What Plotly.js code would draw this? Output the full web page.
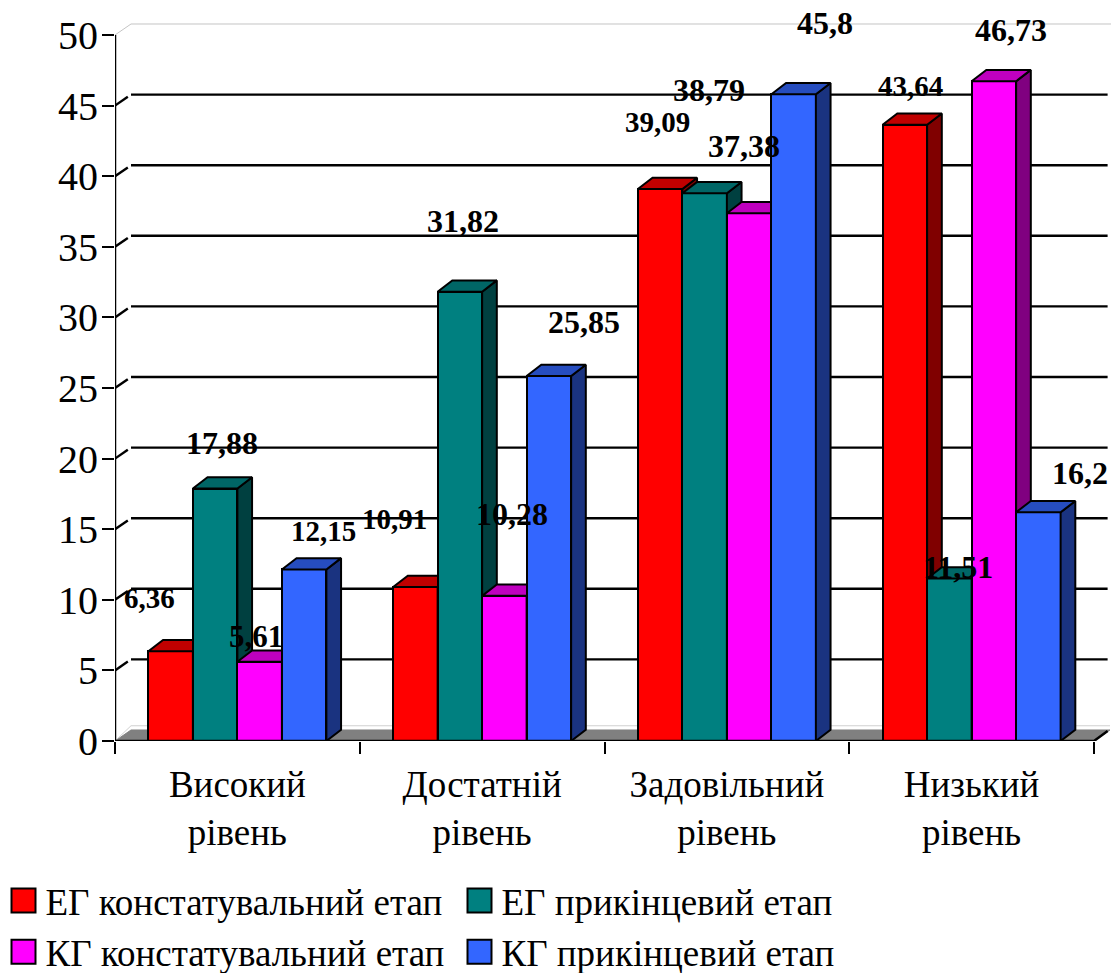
<!DOCTYPE html>
<html>
<head>
<meta charset="utf-8">
<script src="https://cdn.plot.ly/plotly-3.0.1.min.js"></script>
<style>html,body{margin:0;padding:0;background:#fff}</style>
</head>
<body>
<div id="chart" style="width:1111px;height:973px"></div>
<script>
// Рівні сформованості: відсотки за групами та етапами
const categories = ['Високий<br>рівень', 'Достатній<br>рівень', 'Задовільний<br>рівень', 'Низький<br>рівень'];
const seriesNames = ['ЕГ констатувальний етап', 'ЕГ прикінцевий етап', 'КГ констатувальний етап', 'КГ прикінцевий етап'];
const egStart = [6.36, 10.91, 39.09, 43.64];
const egEnd = [17.88, 31.82, 38.79, 11.51];
const kgStart = [5.61, 10.28, 37.38, 46.73];
const kgEnd = [12.15, 25.85, 45.8, 16.2];
const yTicks = [0, 5, 10, 15, 20, 25, 30, 35, 40, 45, 50];

// Face colours per series: front, top, side
const fronts = ['#FF0000', '#008080', '#FF00FF', '#3366FF'];
const tops = ['#C00000', '#006666', '#BF00BF', '#264DBF'];
const sides = ['#800000', '#004040', '#800080', '#1A3380'];

// Hand placement of the value labels, in pixels from the top of each bar
const labelShiftX = [[-21, -21, -3, 6], [7, 3, 4, 9], [-4, 8, -5, 17], [19, 35, 31, 42]];
const labelShiftY = [[53, 68, 67, 39], [46, 71, 103, 11], [25, 82, 67, 51], [38, 54, 71, 39]];
const labelSizes = [[29, 29, 29, 29], [32, 32, 32, 32], [31, 32, 32, 32], [29, 32, 32, 32]];

const allSeries = [egStart, egEnd, kgStart, kgEnd];
const barWidth = 1 / 5.5;
const depthX = 0.06, depthY = 0.8;      // bar depth in axis units
const wallX = 0.0654, wallY = 0.78;     // wall offset in axis units
const xMax = 996 / 244.75, yMax = 719 / 14.12;
const black = '#000';

const barCenter = (group, s) => group + 0.5 + (s - 1.5) * barWidth;

const polygon = (points, color, xaxis, yaxis) => ({
  type: 'scatter', mode: 'lines', x: points.map(p => p && p[0]), y: points.map(p => p && p[1]),
  fill: 'toself', fillcolor: color, line: {color: black, width: 2},
  xaxis, yaxis, showlegend: false, hoverinfo: 'skip', cliponaxis: false
});
const polyline = (points, color, width, xaxis, yaxis) => ({
  type: 'scatter', mode: 'lines', x: points.map(p => p && p[0]), y: points.map(p => p && p[1]),
  line: {color, width}, xaxis, yaxis, showlegend: false, hoverinfo: 'skip', cliponaxis: false
});

const traces = [];

// Back wall, floor and gridlines stay on the base axes, under every bar
const gridValues = yTicks.filter(v => v > 0 && v < 50);
const gridPts = [];
gridValues.forEach(v => {
  gridPts.push([0, v], [wallX * 0.8, v + wallY * 0.8], null, [wallX, v + wallY], [4 + wallX * 0.85, v + wallY], null);
});
traces.push(polygon([[0, 0], [wallX, wallY], [4 + wallX, wallY], [4, 0], [0, 0]], '#808080', 'x', 'y'));
traces[0].line = {color: '#808080', width: 1};
traces.push(polyline([[0, 0], [wallX, wallY + 0.3], [4 + wallX, wallY + 0.3]], '#d0d0d0', 1, 'x', 'y'));
traces.push(polyline([[0, 50], [wallX, 50 + wallY], [xMax, 50 + wallY]], '#c4c4c4', 1, 'x', 'y'));
traces.push(polyline(gridPts, black, 2.4, 'x', 'y'));

// Each series sits on its own overlaid axes so it paints over the sides of the one before
allSeries.forEach((values, s) => {
  const xa = 'x' + (s + 2), ya = 'y' + (s + 2);
  const topPts = [], sidePts = [];
  values.forEach((v, g) => {
    const l = barCenter(g, s) - barWidth / 2, r = barCenter(g, s) + barWidth / 2;
    topPts.push([l, v], [r, v], [r + depthX, v + depthY], [l + depthX, v + depthY], [l, v], null);
    sidePts.push([r, 0], [r + depthX, depthY], [r + depthX, v + depthY], [r, v], [r, 0], null);
  });
  traces.push({
    type: 'bar', name: seriesNames[s], x: values.map((_, g) => barCenter(g, s)), y: values, width: barWidth,
    marker: {color: fronts[s], line: {color: black, width: 2}},
    xaxis: xa, yaxis: ya, cliponaxis: false, hoverinfo: 'skip'
  });
  traces.push(polygon(sidePts, sides[s], xa, ya));
  traces.push(polygon(topPts, tops[s], xa, ya));
});

// Axis lines on top of the bars
traces.push(polyline([[0, 0], [0, 50], null, [0, 0], [4, 0], [4 + wallX * 0.85, wallY * 0.9]], black, 2.5, 'x5', 'y5'));

// Value labels with a decimal comma
const annotations = [];
allSeries.forEach((values, s) => values.forEach((v, g) => annotations.push({
  x: barCenter(g, s), y: v, xref: 'x', yref: 'y',
  text: '<b>' + String(v).replace('.', ',') + '</b>', showarrow: false,
  xshift: labelShiftX[s][g], yshift: labelShiftY[s][g], xanchor: 'center', yanchor: 'middle',
  font: {family: 'Liberation Serif', size: labelSizes[s][g], color: black}
})));

const overlayX = (extra) => Object.assign({range: [0, xMax], overlaying: 'x', anchor: 'y', showgrid: false, zeroline: false, showline: false, showticklabels: false, ticks: ''}, extra);
const overlayY = () => ({range: [0, yMax], overlaying: 'y', anchor: 'x', showgrid: false, zeroline: false, showline: false, showticklabels: false, ticks: ''});

const layout = {
  width: 1111, height: 973,
  margin: {l: 115, r: 0, t: 22, b: 232, pad: 0, autoexpand: false},
  paper_bgcolor: '#fff', plot_bgcolor: '#fff',
  barmode: 'overlay', bargap: 0,
  font: {family: 'Liberation Serif', color: black},
  xaxis: {
    range: [0, xMax], tickmode: 'array', tickvals: categories.map((_, i) => i + 0.5), ticktext: categories,
    ticks: '', showgrid: false, zeroline: false, showline: false, tickangle: 0, ticklabelstandoff: 18,
    tickfont: {size: 37, color: black}, automargin: false
  },
  yaxis: {
    range: [0, yMax], tickmode: 'array', tickvals: yTicks, ticktext: yTicks.map(String),
    ticks: 'outside', ticklen: 12, tickwidth: 2, tickcolor: black, showgrid: false, zeroline: false, showline: false,
    ticklabelstandoff: -4,
    tickfont: {size: 40, color: black}, automargin: false
  },
  // Category separators on the first overlay axis
  xaxis2: overlayX({tickmode: 'array', tickvals: [0, 1, 2, 3, 4], ticks: 'outside', ticklen: 12, tickwidth: 2, tickcolor: black}),
  xaxis3: overlayX({}), xaxis4: overlayX({}), xaxis5: overlayX({}),
  yaxis2: overlayY(), yaxis3: overlayY(), yaxis4: overlayY(), yaxis5: overlayY(),
  annotations,
  showlegend: true,
  legend: {
    orientation: 'h', x: -113.5 / 996, xanchor: 'left', y: -0.1795, yanchor: 'top',
    itemwidth: 34, entrywidth: 407, entrywidthmode: 'pixels', traceorder: 'normal',
    font: {family: 'Liberation Serif', size: 37, color: black}, bgcolor: 'rgba(0,0,0,0)', itemclick: false, itemdoubleclick: false
  }
};

Plotly.newPlot('chart', traces, layout, {displayModeBar: false}).then(() => {
  // Larger legend swatches than the library's default
  document.querySelectorAll('#chart .legend .legendpoints path').forEach(p => {
    p.setAttribute('d', 'M12,12H-12V-12H12Z');
  });
});
</script>
</body>
</html>
